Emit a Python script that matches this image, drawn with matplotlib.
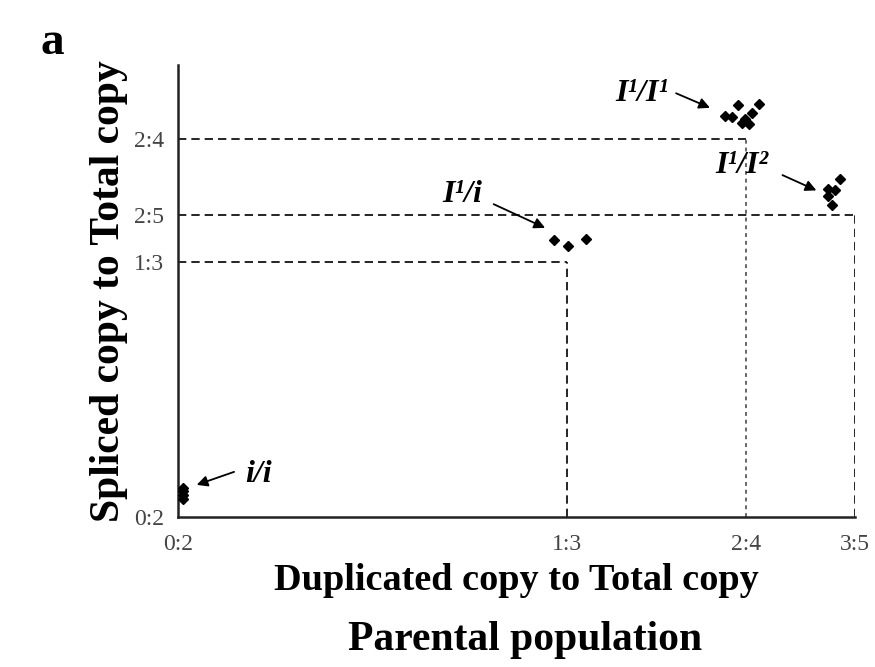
import matplotlib
matplotlib.use('Agg')
import matplotlib.pyplot as plt

plt.rcParams['font.family'] = 'Liberation Serif'

# ---- data (ratio = copy : total) ----
x_tick_pos = [0.0, 0.333, 0.486, 0.579]
x_tick_labels = ['0:2', '1:3', '2:4', '3:5']
y_tick_pos = [0.0, 0.333, 0.395, 0.494]
y_tick_labels = ['0:2', '1:3', '2:5', '2:4']

ii_x = [0.004, 0.004, 0.004, 0.004]
ii_y = [0.024, 0.029, 0.034, 0.038]

I1i_x = [0.322, 0.334, 0.349]
I1i_y = [0.362, 0.354, 0.363]

I1I1_x = [0.479, 0.497, 0.491, 0.468, 0.474, 0.482, 0.488, 0.485]
I1I1_y = [0.539, 0.540, 0.528, 0.524, 0.523, 0.515, 0.514, 0.520]

I1I2_x = [0.566, 0.556, 0.562, 0.556, 0.559]
I1I2_y = [0.442, 0.429, 0.427, 0.420, 0.408]

groups = [
    # label, xs, ys, text pos, arrow start, arrow tip
    ('i/i', ii_x, ii_y, (0.069, 0.056), (0.048, 0.059), (0.016, 0.042)),
    ('I¹/i', I1i_x, I1i_y, (0.243, 0.421), (0.270, 0.409), (0.314, 0.378)),
    ('I¹/I¹', I1I1_x, I1I1_y, (0.397, 0.554), (0.426, 0.554), (0.455, 0.535)),
    ('I¹/I²', I1I2_x, I1I2_y, (0.482, 0.459), (0.517, 0.447), (0.546, 0.427)),
]

fig = plt.figure(figsize=(8.75, 6.67), dpi=100)
ax = fig.add_axes([0.2034, 0.2249, 0.7737, 0.6777])

# reference lines
dash = dict(color='black', lw=1.2, linestyle=(0, (5, 3)))
ax.plot([0, x_tick_pos[1]], [y_tick_pos[1]] * 2, **dash)
ax.plot([x_tick_pos[1]] * 2, [0, y_tick_pos[1]], **dash)
ax.plot([0, x_tick_pos[3]], [y_tick_pos[2]] * 2, **dash)
ax.plot([x_tick_pos[3]] * 2, [0, y_tick_pos[2]], **dash)
ax.plot([0, x_tick_pos[2]], [y_tick_pos[3]] * 2, **dash)
ax.plot([x_tick_pos[2]] * 2, [0, y_tick_pos[3]], color='#666666', lw=1.4,
        linestyle=(0, (2, 2)))

for label, xs, ys, tpos, astart, atip in groups:
    ax.plot(xs, ys, 'D', color='black', markersize=5.5, clip_on=False, zorder=5)
    ax.text(tpos[0], tpos[1], label, fontsize=23, fontweight='bold',
            style='italic', ha='center', va='center')
    ax.annotate('', xy=atip, xytext=astart,
                arrowprops=dict(arrowstyle='-|>', color='black', lw=1.3,
                                mutation_scale=16, shrinkA=0, shrinkB=0))

ax.set_xlim(0, 0.579)
ax.set_ylim(0, 0.591)
ax.set_xticks(x_tick_pos, x_tick_labels)
ax.set_yticks(y_tick_pos, y_tick_labels)
ax.tick_params(length=0, labelsize=17, labelcolor='#444444')
ax.tick_params(axis='x', pad=12)
ax.tick_params(axis='y', pad=10)

for side in ['top', 'right']:
    ax.spines[side].set_visible(False)
for side in ['left', 'bottom']:
    ax.spines[side].set_color('#222222')
    ax.spines[side].set_linewidth(1.8)

ax.set_xlabel('Duplicated copy to Total copy', fontsize=27.5, fontweight='bold',
              labelpad=6)
ax.set_ylabel('Spliced copy to Total copy', fontsize=30, fontweight='bold',
              labelpad=4)

fig.text(525 / 875, 1 - 640 / 667, 'Parental population', fontsize=30,
         fontweight='bold', ha='center', va='center')
fig.text(40 / 875, 1 - 54 / 667, 'a', fontsize=34, fontweight='bold')

fig.savefig('out.png', dpi=100)
